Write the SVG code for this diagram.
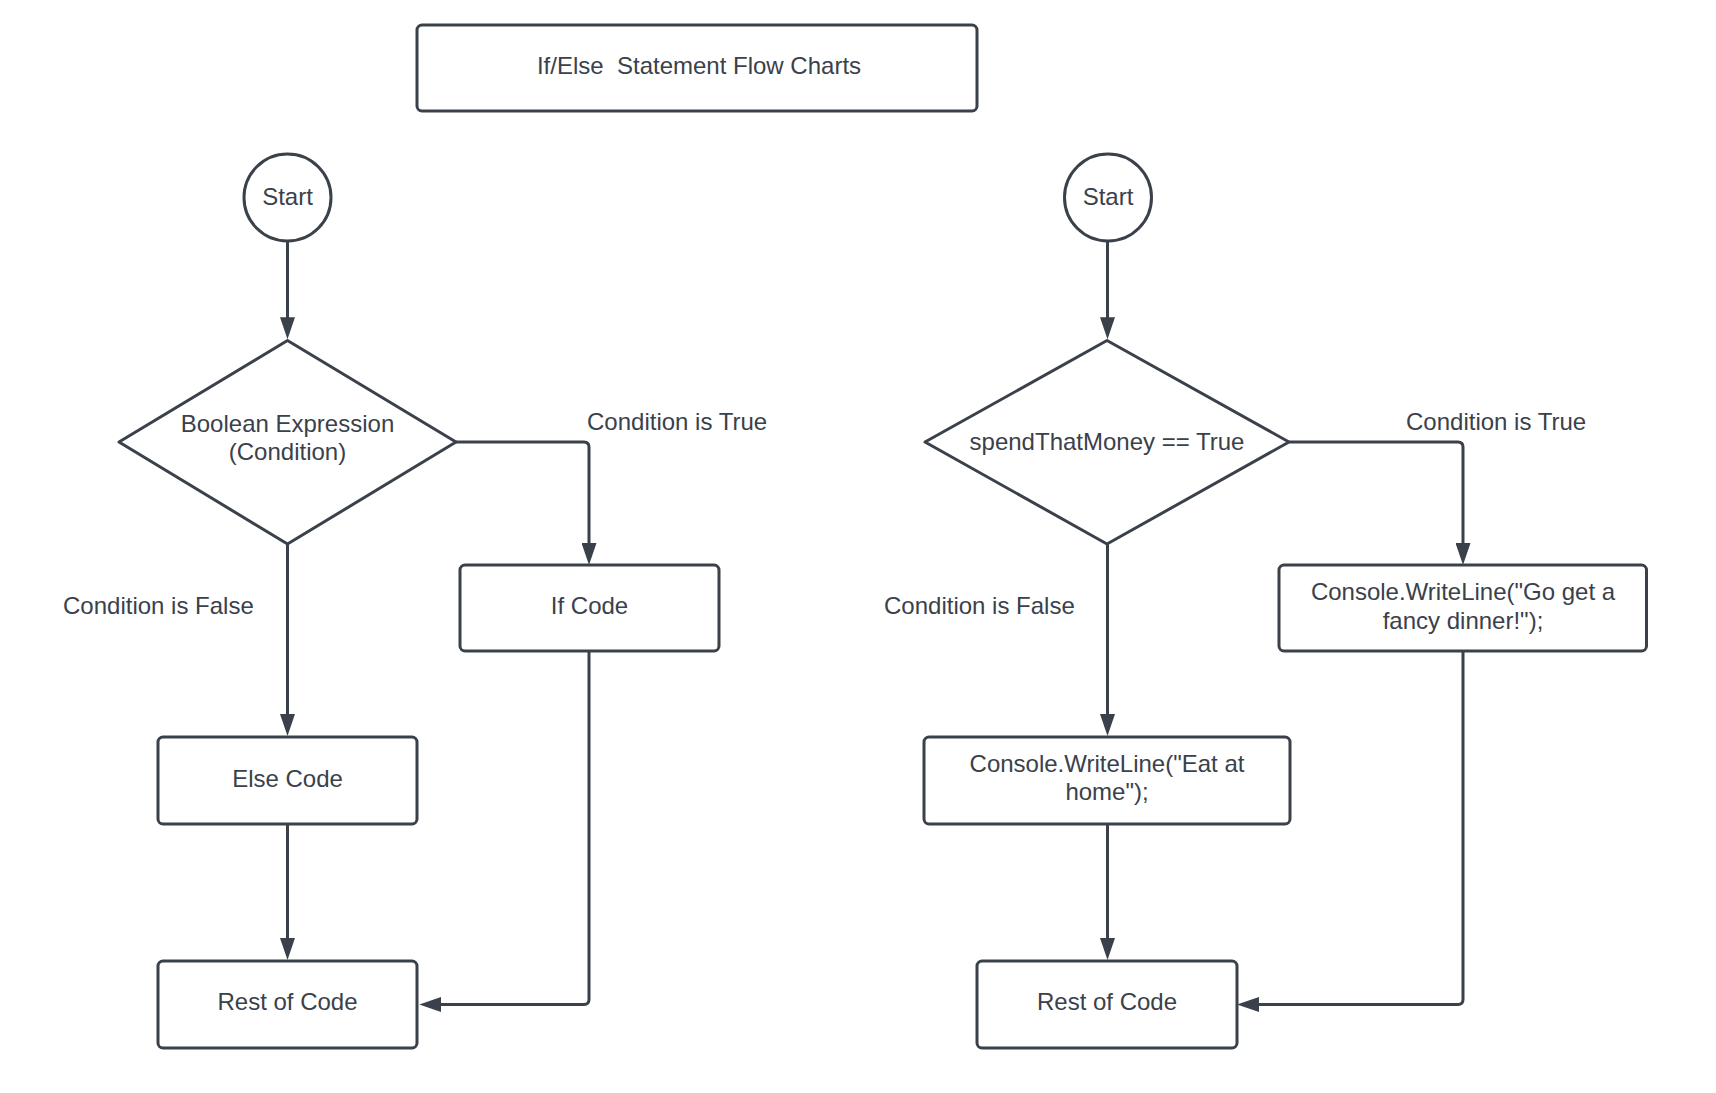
<svg xmlns="http://www.w3.org/2000/svg" width="1716" height="1093" viewBox="0 0 1716 1093">
<style>
.shape{fill:#ffffff;stroke:#3a414a;stroke-width:3;stroke-linejoin:round}
.conn{fill:none;stroke:#3a414a;stroke-width:3}
text{font-family:"Liberation Sans",Arial,sans-serif;font-size:24px;fill:#3a414a;white-space:pre}
.c{text-anchor:middle}
</style>
<defs>
<marker id="arrow" viewBox="0 0 22 15" refX="4" refY="7.5" markerWidth="22" markerHeight="15" markerUnits="userSpaceOnUse" orient="auto">
<path d="M0,0 L22,7.5 L0,15 z" fill="#3a414a"/>
</marker>
</defs>
<rect width="1716" height="1093" fill="#ffffff"/>
<g id="connectors">
<path class="conn" marker-end="url(#arrow)" d="M287.5,241 V321.3"/>
<path class="conn" marker-end="url(#arrow)" d="M456,442 H584 Q589,442 589,447 V547"/>
<path class="conn" marker-end="url(#arrow)" d="M287.5,544 V718"/>
<path class="conn" marker-end="url(#arrow)" d="M287.5,824 V942"/>
<path class="conn" marker-end="url(#arrow)" d="M589,651 V999.5 Q589,1004.5 584,1004.5 H437.3"/>
<path class="conn" marker-end="url(#arrow)" d="M1107.5,241 V321.3"/>
<path class="conn" marker-end="url(#arrow)" d="M1289,442 H1458 Q1463,442 1463,447 V547"/>
<path class="conn" marker-end="url(#arrow)" d="M1107.5,544 V718"/>
<path class="conn" marker-end="url(#arrow)" d="M1107.5,824 V942"/>
<path class="conn" marker-end="url(#arrow)" d="M1463,651 V999.5 Q1463,1004.5 1458,1004.5 H1255"/>
</g>
<g id="title">
<rect class="shape" x="417" y="25" width="560" height="86" rx="5"/>
<text class="c" x="699" y="74">If/Else  Statement Flow Charts</text>
</g>
<g id="start-left">
<circle class="shape" cx="287.5" cy="197.5" r="43.5"/>
<text class="c" x="287.5" y="205">Start</text>
</g>
<g id="decision-left">
<polygon class="shape" points="287.5,340.5 456,442 287.5,544 119,442"/>
<text class="c" x="287.5" y="432">Boolean Expression</text>
<text class="c" x="287.5" y="459.5">(Condition)</text>
</g>
<g id="label-true-left"><text x="587" y="430">Condition is True</text></g>
<g id="label-false-left"><text x="63" y="614">Condition is False</text></g>
<g id="if-code">
<rect class="shape" x="460" y="565" width="259" height="86" rx="5"/>
<text class="c" x="589.5" y="614">If Code</text>
</g>
<g id="else-code">
<rect class="shape" x="158" y="737" width="259" height="87" rx="5"/>
<text class="c" x="287.5" y="787">Else Code</text>
</g>
<g id="rest-left">
<rect class="shape" x="158" y="961" width="259" height="87" rx="5"/>
<text class="c" x="287.5" y="1010">Rest of Code</text>
</g>
<g id="start-right">
<circle class="shape" cx="1108" cy="197.5" r="43.5"/>
<text class="c" x="1108" y="205">Start</text>
</g>
<g id="decision-right">
<polygon class="shape" points="1107,340.5 1289,442 1107,544 925,442"/>
<text class="c" x="1107" y="450">spendThatMoney == True</text>
</g>
<g id="label-true-right"><text x="1406" y="430">Condition is True</text></g>
<g id="label-false-right"><text x="884" y="614">Condition is False</text></g>
<g id="go-dinner">
<rect class="shape" x="1279" y="565" width="367.5" height="86" rx="5"/>
<text class="c" x="1463" y="600">Console.WriteLine("Go get a</text>
<text class="c" x="1463" y="628.5">fancy dinner!");</text>
</g>
<g id="eat-home">
<rect class="shape" x="924" y="737" width="366" height="87" rx="5"/>
<text class="c" x="1107" y="772">Console.WriteLine("Eat at</text>
<text class="c" x="1107" y="800">home");</text>
</g>
<g id="rest-right">
<rect class="shape" x="977" y="961" width="260" height="87" rx="5"/>
<text class="c" x="1107" y="1010">Rest of Code</text>
</g>
</svg>
